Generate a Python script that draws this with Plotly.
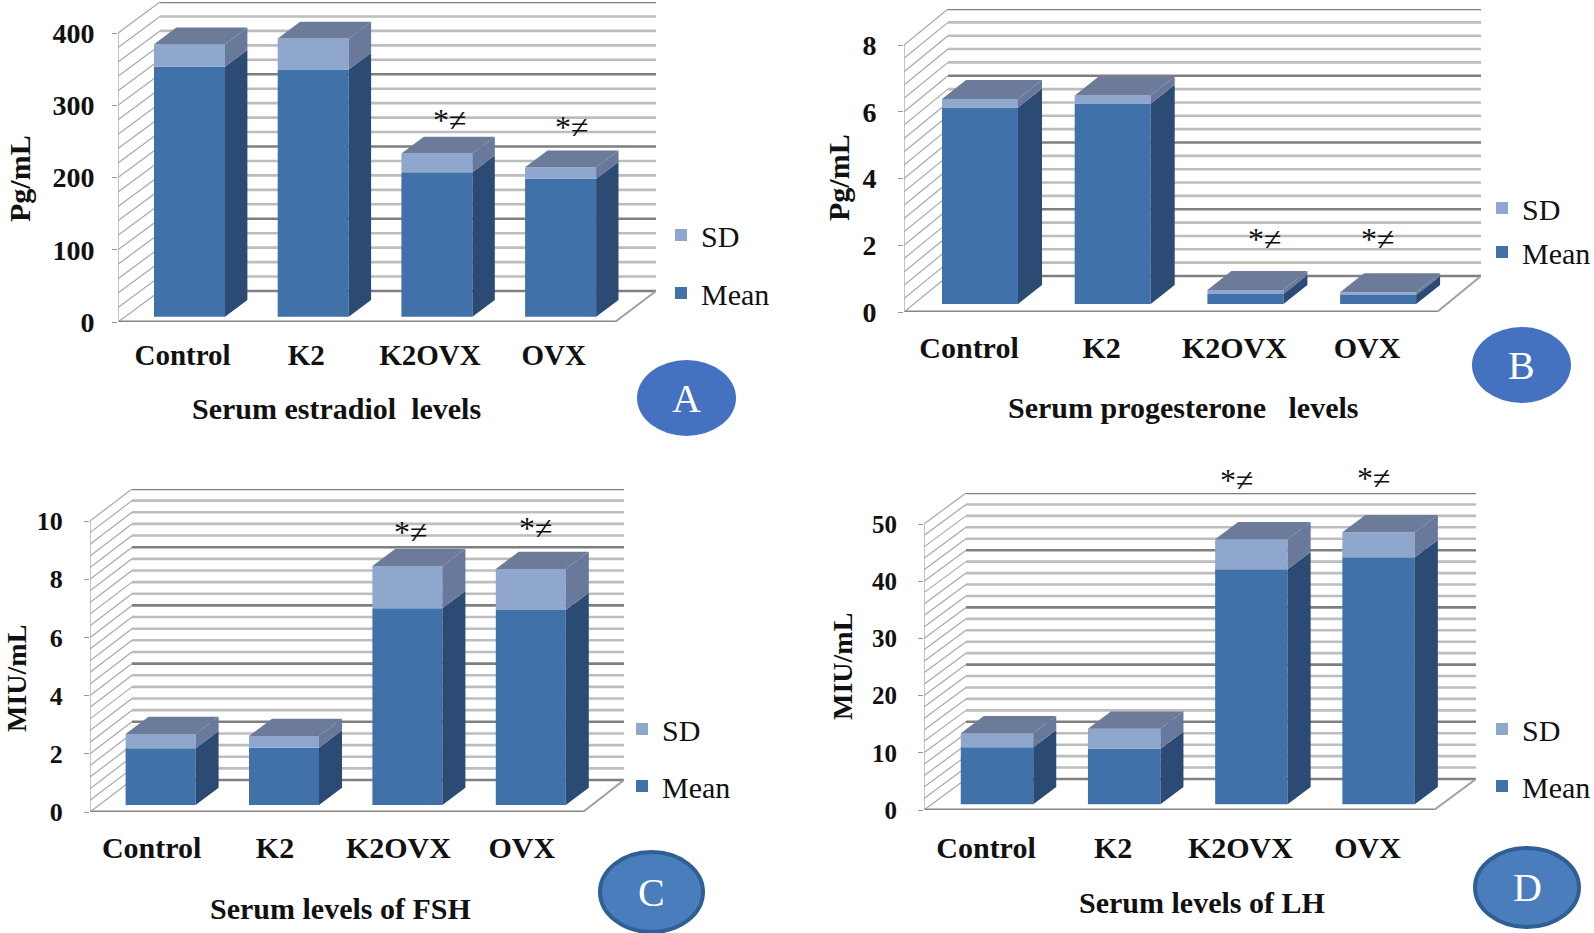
import numpy as np
import plotly.graph_objects as go

W = 1594
H = 933
SERIF = "Liberation Serif"

categories = ["Control", "K2", "K2OVX", "OVX"]

estradiol_mean = [346, 342, 200, 191]
estradiol_sd = [31, 43, 26, 16]
progesterone_mean = [5.89, 6.0, 0.30, 0.27]
progesterone_sd = [0.25, 0.25, 0.12, 0.08]
fsh_mean = [1.95, 1.97, 6.76, 6.70]
fsh_sd = [0.49, 0.40, 1.45, 1.41]
lh_mean = [9.96, 9.72, 41.1, 43.2]
lh_sd = [2.45, 3.50, 5.25, 4.37]

# pixel geometry of each panel
panels = [
    dict(mean=estradiol_mean, sd=estradiol_sd, ymax=400, major=100, minor=20,
         left=118, front_right=615, right=656, y0=322, ytop_val=33, wall_dx=42, wall_dy=31,
         cx0=189.5, step=123.7, bar_w=71, base_px=5.3, dx=22.4, dy=16.7, label_shift=-7, label_standoff=13, tick_standoff=12,
         tick_size=28, label_size=29, ylab="Pg/mL", ylab_size=30, ylab_x=19, ylab_y=179, title="Serum estradiol  levels",
         title_x=336, title_y=408, title_size=30,
         stars=[(450, 120), (572, 127)],
         legend_x=661, legend_y=209, legend_gap=16,
         badge="A", badge_box=(637, 360, 736, 436), badge_line=None),
    dict(mean=progesterone_mean, sd=progesterone_sd, ymax=8, major=2, minor=0.4,
         left=904, front_right=1437, right=1481, y0=312, ytop_val=45, wall_dx=44, wall_dy=36,
         cx0=980, step=132.7, bar_w=76, base_px=8, dx=24, dy=19, label_shift=-11, label_standoff=15, tick_standoff=16,
         tick_size=28, label_size=30, ylab="Pg/mL", ylab_size=30, ylab_x=838, ylab_y=177, title="Serum progesterone   levels",
         title_x=1183, title_y=407, title_size=30,
         stars=[(1265, 239), (1378, 239)],
         legend_x=1482, legend_y=182, legend_gap=2,
         badge="B", badge_box=(1472, 327, 1571, 403), badge_line=None),
    dict(mean=fsh_mean, sd=fsh_sd, ymax=10, major=2, minor=0.4,
         left=90, front_right=583, right=624, y0=812, ytop_val=521, wall_dx=42, wall_dy=32,
         cx0=160.6, step=123.4, bar_w=70, base_px=7, dx=23, dy=17.3, label_shift=-9, label_standoff=15, tick_standoff=16,
         tick_size=26, label_size=30, ylab="MIU/mL", ylab_size=28, ylab_x=16, ylab_y=679, title="Serum levels of FSH",
         title_x=340, title_y=908, title_size=30,
         stars=[(411, 532), (536, 528)],
         legend_x=622, legend_y=703, legend_gap=15,
         badge="C", badge_box=(600, 852, 703, 932), badge_line="#2f5f94"),
    dict(mean=lh_mean, sd=lh_sd, ymax=50, major=10, minor=2,
         left=924, front_right=1434, right=1476, y0=810, ytop_val=524, wall_dx=42, wall_dy=31,
         cx0=997, step=127.2, bar_w=72.5, base_px=5.7, dx=23, dy=17.3, label_shift=-11, label_standoff=17, tick_standoff=16,
         tick_size=25, label_size=30, ylab="MIU/mL", ylab_size=28, ylab_x=842, ylab_y=667, title="Serum levels of LH",
         title_x=1202, title_y=902, title_size=30,
         stars=[(1237, 480), (1374, 478)],
         legend_x=1482, legend_y=703, legend_gap=15,
         badge="D", badge_box=(1475, 848, 1579, 927), badge_line="#2f5f94"),
]

MEAN_FRONT = "#4071a8"
MEAN_SIDE = "#2b4b75"
SD_FRONT = "#8fa6cd"
SD_SIDE = "#68799b"
TOP = "#6c7b9a"

fig = go.Figure()
shapes = []
annotations = []
layout_extra = {}

for n, p in enumerate(panels):
    suffix = "" if n == 0 else str(n + 1)
    xa = "x" + suffix
    ya = "y" + suffix
    leg = "legend" + suffix

    scale = (p["y0"] - p["ytop_val"]) / p["ymax"]
    y_span = p["wall_dy"] + (p["y0"] - p["ytop_val"])
    yrange = y_span / scale
    x_lo = (p["left"] - p["cx0"]) / p["step"]
    x_hi = (p["right"] - p["cx0"]) / p["step"]

    idx = np.arange(len(categories))
    mean = np.array(p["mean"])
    sd = np.array(p["sd"])
    base = p["base_px"] / scale
    bw = p["bar_w"] / p["step"]
    du = p["dx"] / p["step"]
    dv = p["dy"] / scale

    fig.add_trace(go.Bar(x=idx, y=mean, base=base, width=bw, name="Mean", marker=dict(color=MEAN_FRONT, line_width=0),
                         xaxis=xa, yaxis=ya, legend=leg, legendgroup="mean" + suffix, legendrank=2))
    fig.add_trace(go.Bar(x=idx, y=sd, base=base + mean, width=bw, name="SD", marker=dict(color=SD_FRONT, line_width=0),
                         xaxis=xa, yaxis=ya, legend=leg, legendgroup="sd" + suffix, legendrank=1))

    # side and top faces of the bars
    side_m_x, side_m_y, side_s_x, side_s_y, top_x, top_y = [], [], [], [], [], []
    for i in idx:
        xl = i - bw / 2
        xr = i + bw / 2
        m_top = base + mean[i]
        s_top = m_top + sd[i]
        side_m_x += [xr, xr + du, xr + du, xr, xr, None]
        side_m_y += [base, base + dv, m_top + dv, m_top, base, None]
        side_s_x += [xr, xr + du, xr + du, xr, xr, None]
        side_s_y += [m_top, m_top + dv, s_top + dv, s_top, m_top, None]
        top_x += [xl, xr, xr + du, xl + du, xl, None]
        top_y += [s_top, s_top, s_top + dv, s_top + dv, s_top, None]
    for fx, fy, col in [(side_m_x, side_m_y, MEAN_SIDE), (side_s_x, side_s_y, SD_SIDE), (top_x, top_y, TOP)]:
        fig.add_trace(go.Scatter(x=fx, y=fy, mode="lines", fill="toself", fillcolor=col, line=dict(width=0, color=col),
                                 showlegend=False, hoverinfo="skip", xaxis=xa, yaxis=ya))

    # back wall, side wall and floor
    wall_u = p["wall_dx"] / p["step"]
    wall_v = p["wall_dy"] / scale
    front_r = (p["front_right"] - p["cx0"]) / p["step"]
    nlines = int(round(p["ymax"] / p["minor"]))
    every = int(round(p["major"] / p["minor"]))
    for k in range(nlines + 1):
        v = k * p["minor"]
        is_major = k % every == 0
        shapes.append(dict(type="line", xref=xa, yref=ya, layer="below", x0=x_lo + wall_u, x1=x_hi, y0=v + wall_v, y1=v + wall_v,
                           line=dict(color="#7f7f7f" if is_major else "#bdbdbd", width=2.6)))
        shapes.append(dict(type="line", xref=xa, yref=ya, layer="below", x0=x_lo, x1=x_lo + wall_u, y0=v, y1=v + wall_v,
                           line=dict(color="#a8a8a8", width=1.2)))
    shapes.append(dict(type="line", xref=xa, yref=ya, layer="below", x0=front_r, x1=x_hi, y0=0, y1=wall_v,
                       line=dict(color="#a0a0a0", width=2)))
    shapes.append(dict(type="line", xref=xa, yref=ya, layer="below", x0=x_lo, x1=front_r, y0=0, y1=0,
                       line=dict(color="#868686", width=3)))

    layout_extra["xaxis" + suffix] = dict(
        domain=[p["left"] / W, p["right"] / W], range=[x_lo, x_hi], anchor=ya,
        tickmode="array", tickvals=list(idx + p["label_shift"] / p["step"]), ticktext=categories,
        ticks="", showgrid=False, zeroline=False, showline=False, ticklabelstandoff=p["label_standoff"],
        tickfont=dict(family=SERIF, size=p["label_size"], color="#111111", weight="bold"),
    )
    layout_extra["yaxis" + suffix] = dict(
        domain=[1 - p["y0"] / H, 1 - (p["y0"] - y_span) / H], range=[0, yrange], anchor=xa,
        tickmode="array", tickvals=list(np.arange(0, p["ymax"] + p["major"] / 2, p["major"])),
        ticks="outside", ticklen=5, tickcolor="#999999", showgrid=False, zeroline=False,
        showline=False, ticklabelstandoff=p["tick_standoff"],
        tickfont=dict(family=SERIF, size=p["tick_size"], color="#111111", weight="bold"),
    )
    shapes.append(dict(type="line", xref=xa, yref=ya, layer="below", x0=x_lo, x1=x_lo, y0=0, y1=p["ymax"],
                       line=dict(color="#b0b0b0", width=1.5)))

    layout_extra[leg] = dict(
        x=p["legend_x"] / W, y=1 - p["legend_y"] / H, xanchor="left", yanchor="top",
        traceorder="grouped", tracegroupgap=p["legend_gap"], bgcolor="rgba(0,0,0,0)",
        font=dict(family=SERIF, size=30, color="#111111"),
    )

    annotations.append(dict(text=p["ylab"], xref="paper", yref="paper", x=p["ylab_x"] / W, y=1 - p["ylab_y"] / H,
                            textangle=-90, showarrow=False, xanchor="center", yanchor="middle",
                            font=dict(family=SERIF, size=p["ylab_size"], color="#111111", weight="bold")))
    annotations.append(dict(text=p["title"], xref="paper", yref="paper", x=p["title_x"] / W, y=1 - p["title_y"] / H,
                            showarrow=False, xanchor="center", yanchor="middle",
                            font=dict(family=SERIF, size=p["title_size"], color="#111111", weight="bold")))
    for sx, sy in p["stars"]:
        annotations.append(dict(text="*≠", xref="paper", yref="paper", x=sx / W, y=1 - sy / H,
                                showarrow=False, xanchor="center", yanchor="middle",
                                font=dict(family=SERIF, size=32, color="#111111")))

    bx0, by0, bx1, by1 = p["badge_box"]
    shapes.append(dict(type="circle", xref="paper", yref="paper", layer="above",
                       x0=bx0 / W, x1=bx1 / W, y0=1 - by0 / H, y1=1 - by1 / H, fillcolor="#4472c0" if p["badge_line"] is None else "#4a7dbb",
                       line=dict(color=p["badge_line"] or "#4472c0", width=4 if p["badge_line"] else 0)))
    annotations.append(dict(text=p["badge"], xref="paper", yref="paper", x=(bx0 + bx1) / 2 / W, y=1 - (by0 + by1) / 2 / H,
                            showarrow=False, xanchor="center", yanchor="middle",
                            font=dict(family=SERIF, size=40, color="white")))

fig.update_layout(
    width=W, height=H, margin=dict(l=0, r=0, t=0, b=0, autoexpand=False),
    paper_bgcolor="white", plot_bgcolor="white", barmode="overlay",
    shapes=shapes, annotations=annotations, **layout_extra,
)

fig.write_html("out.html", post_script="document.body.style.margin='0';", config={"displayModeBar": False})
